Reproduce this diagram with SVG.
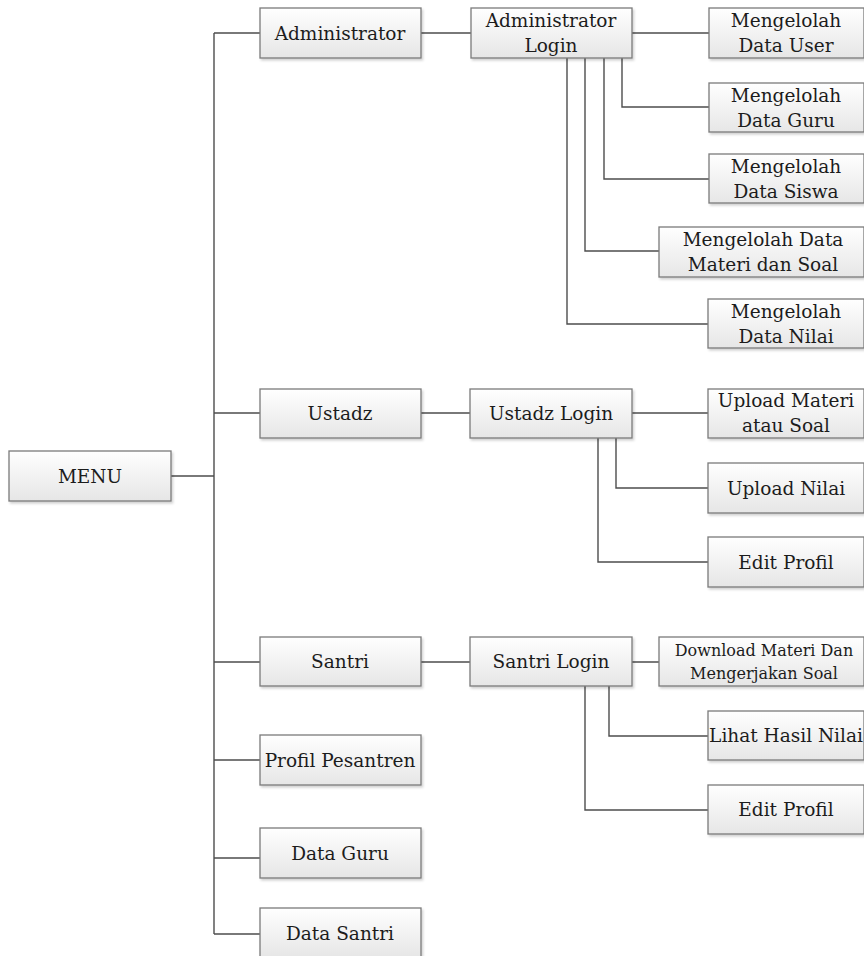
<svg xmlns="http://www.w3.org/2000/svg" width="864" height="956" viewBox="0 0 864 956">
<defs>
<linearGradient id="g" x1="0" y1="0" x2="0" y2="1">
<stop offset="0" stop-color="#ffffff"/>
<stop offset="1" stop-color="#e6e6e6"/>
</linearGradient>
<filter id="sh" x="-5%" y="-5%" width="115%" height="130%">
<feDropShadow dx="1.5" dy="2" stdDeviation="1.2" flood-color="#000" flood-opacity="0.18"/>
</filter>
</defs>
<style>
.b{fill:url(#g);stroke:#7a7a7a;stroke-width:1.3;filter:url(#sh)}
.t{font-family:"DejaVu Serif","Liberation Serif",serif;font-size:18.5px;fill:#1c1c1c;text-anchor:middle}
.s{font-size:16px}
.c{fill:none;stroke:#4d4d4d;stroke-width:1.4}
</style>
<rect width="864" height="956" fill="#fff"/>
<g id="connectors">
<path class="c" d="M171,476H214M214,33V934M214,33H260M214,413H260M214,662H260M214,760H260M214,858H260M214,934H260"/>
<path class="c" d="M421,33H471M632,33H709M622,58V107H709M604,58V179H709M585,58V251H659M567,58V324H708"/>
<path class="c" d="M421,413H470M632,413H708M616,438V488H708M598,438V562H708"/>
<path class="c" d="M421,662H470M632,662H659M609,686V736H708M585,686V810H708"/>
</g>
<g id="menu"><rect class="b" x="9" y="451" width="162" height="50"/><text class="t" x="90" y="483">MENU</text></g>
<g id="administrator"><rect class="b" x="260" y="8" width="161" height="50"/><text class="t" x="340" y="40">Administrator</text></g>
<g id="ustadz"><rect class="b" x="260" y="389" width="161" height="49"/><text class="t" x="340" y="420">Ustadz</text></g>
<g id="santri"><rect class="b" x="260" y="637" width="161" height="49"/><text class="t" x="340" y="668">Santri</text></g>
<g id="profil-pesantren"><rect class="b" x="260" y="735" width="161" height="50"/><text class="t" x="340" y="767">Profil Pesantren</text></g>
<g id="data-guru"><rect class="b" x="260" y="828" width="161" height="50"/><text class="t" x="340" y="860">Data Guru</text></g>
<g id="data-santri"><rect class="b" x="260" y="908" width="161" height="50"/><text class="t" x="340" y="940">Data Santri</text></g>
<g id="admin-login"><rect class="b" x="471" y="8" width="161" height="50"/><text class="t" x="551" y="27">Administrator</text><text class="t" x="551" y="52">Login</text></g>
<g id="data-user"><rect class="b" x="709" y="8" width="155" height="50"/><text class="t" x="786" y="27">Mengelolah</text><text class="t" x="786" y="52">Data User</text></g>
<g id="data-guru-admin"><rect class="b" x="709" y="83" width="155" height="49"/><text class="t" x="786" y="102">Mengelolah</text><text class="t" x="786" y="127">Data Guru</text></g>
<g id="data-siswa"><rect class="b" x="709" y="154" width="155" height="49"/><text class="t" x="786" y="173">Mengelolah</text><text class="t" x="786" y="198">Data Siswa</text></g>
<g id="materi-soal"><rect class="b" x="659" y="227" width="205" height="50"/><text class="t" x="763" y="246">Mengelolah Data</text><text class="t" x="763" y="271">Materi dan Soal</text></g>
<g id="data-nilai"><rect class="b" x="708" y="299" width="156" height="49"/><text class="t" x="786" y="318">Mengelolah</text><text class="t" x="786" y="343">Data Nilai</text></g>
<g id="ustadz-login"><rect class="b" x="470" y="389" width="162" height="49"/><text class="t" x="551" y="420">Ustadz Login</text></g>
<g id="upload-materi"><rect class="b" x="708" y="389" width="156" height="49"/><text class="t" x="786" y="407">Upload Materi</text><text class="t" x="786" y="432">atau Soal</text></g>
<g id="upload-nilai"><rect class="b" x="708" y="463" width="156" height="50"/><text class="t" x="786" y="495">Upload Nilai</text></g>
<g id="edit-profil-ustadz"><rect class="b" x="708" y="537" width="156" height="50"/><text class="t" x="786" y="569">Edit Profil</text></g>
<g id="santri-login"><rect class="b" x="470" y="637" width="162" height="49"/><text class="t" x="551" y="668">Santri Login</text></g>
<g id="download"><rect class="b" x="659" y="637" width="205" height="49"/><text class="t s" x="764" y="656">Download Materi Dan</text><text class="t s" x="764" y="679">Mengerjakan Soal</text></g>
<g id="lihat-nilai"><rect class="b" x="708" y="711" width="156" height="49"/><text class="t" x="786" y="742">Lihat Hasil Nilai</text></g>
<g id="edit-profil-santri"><rect class="b" x="708" y="785" width="156" height="49"/><text class="t" x="786" y="816">Edit Profil</text></g>
</svg>
